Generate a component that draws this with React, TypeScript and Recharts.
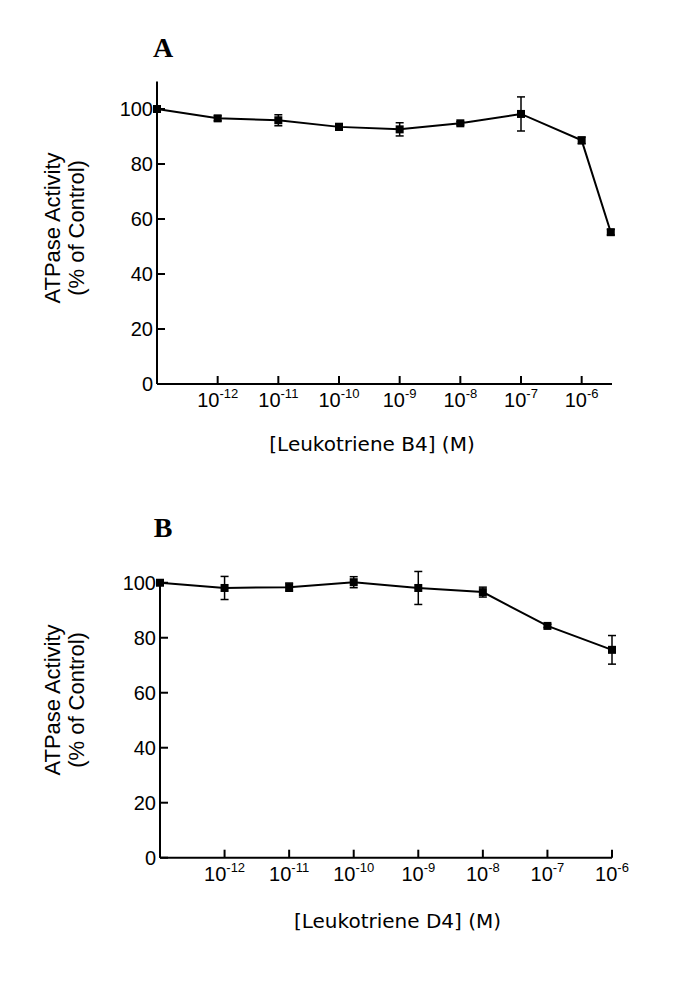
import React from 'react';
import { LineChart, Line, XAxis, YAxis, ErrorBar, ReferenceLine, Label } from 'recharts';

// concentrations as log10(M); first point is the control, plotted at 10^-13
const doseExpA = [-13, -12, -11, -10, -9, -8, -7, -6, -5.52];
const activityA = [100, 96.6, 95.9, 93.5, 92.6, 94.8, 98.2, 88.6, 55.2];
const errorA = [0.6, 0.9, 2.0, 1.2, 2.4, 0.6, 6.2, 1.2, 1.0];

const doseExpB = [-13, -12, -11, -10, -9, -8, -7, -6];
const activityB = [100, 98.1, 98.4, 100.2, 98.1, 96.6, 84.3, 75.6];
const errorB = [0.4, 4.2, 1.5, 2.0, 6.0, 1.8, 0.6, 5.2];

const yTicks = [0, 20, 40, 60, 80, 100];
const xTicks = [-13, -12, -11, -10, -9, -8, -7, -6];

const SANS = '"Liberation Sans", Arial, Helvetica, sans-serif';

const toRows = (xs: number[], ys: number[], es: number[]) =>
  xs.map((x, i) => ({ x, y: ys[i], err: es[i] }));

const XTick = (props: any) => {
  const { x, y, payload } = props;
  const v = payload.value;
  return (
    <g>
      <line x1={x} y1={y} x2={x} y2={y - 8} stroke="#000" strokeWidth={2} />
      {v !== -13 && (
        <text x={x} y={y + 23} textAnchor="middle" fontFamily={SANS} fontSize={20} fill="#000">
          10<tspan dy={-9} fontSize={13}>{v}</tspan>
        </text>
      )}
    </g>
  );
};

const YTick = (props: any) => {
  const { x, y, payload } = props;
  return (
    <g>
      <line x1={x} y1={y} x2={x + 8} y2={y} stroke="#000" strokeWidth={2} />
      <text x={x - 4} y={y} dy={7} textAnchor="end" fontFamily={SANS} fontSize={20} fill="#000">
        {payload.value}
      </text>
    </g>
  );
};

const SquareDot = (props: any) => {
  const { cx, cy, index } = props;
  return <rect key={index} x={cx - 4} y={cy - 4} width={8} height={8} fill="#000" />;
};

interface PanelProps {
  letter: string;
  xLabel: string;
  rows: { x: number; y: number; err: number }[];
  xDomain: [number, number];
  yDomain: [number, number];
  margin: { top: number; right: number; bottom: number; left: number };
  xLabelPos: [number, number];
  yLabelPos: [number, number];
  titlePos: [number, number];
  clipAxisAt?: number;
}

const Panel: React.FC<PanelProps> = (p) => (
  <LineChart width={669} height={470} data={p.rows} margin={p.margin}>
    <XAxis
      dataKey="x"
      type="number"
      domain={p.xDomain}
      ticks={xTicks}
      interval={0}
      tick={<XTick />}
      tickSize={0}
      tickMargin={0}
      height={40}
      axisLine={{ stroke: '#000', strokeWidth: 2 }}
    >
      <Label
        content={() => (
          <text
            x={p.xLabelPos[0]}
            y={p.xLabelPos[1]}
            textAnchor="middle"
            fontFamily='"DejaVu Sans", sans-serif'
            fontSize={20}
            fill="#000"
          >
            {p.xLabel}
          </text>
        )}
      />
    </XAxis>
    <YAxis
      type="number"
      domain={p.yDomain}
      ticks={yTicks}
      interval={0}
      tick={<YTick />}
      tickSize={0}
      tickMargin={0}
      width={60}
      axisLine={p.clipAxisAt ? false : { stroke: '#000', strokeWidth: 2 }}
    >
      <Label
        content={() => {
          const [cx, cy] = p.yLabelPos;
          return (
            <g>
              <text
                x={p.titlePos[0]}
                y={p.titlePos[1]}
                textAnchor="middle"
                fontFamily='"Liberation Serif", "Times New Roman", serif'
                fontWeight="bold"
                fontSize={28}
                fill="#000"
              >
                {p.letter}
              </text>
              <text
                x={cx}
                y={cy}
                transform={`rotate(-90 ${cx} ${cy})`}
                textAnchor="middle"
                fontFamily={SANS}
                fontSize={22}
                fill="#000"
              >
                <tspan x={cx}>ATPase Activity</tspan>
                <tspan x={cx} dy={24}>(% of Control)</tspan>
              </text>
            </g>
          );
        }}
      />
    </YAxis>
    {p.clipAxisAt !== undefined && (
      <ReferenceLine
        segment={[
          { x: p.xDomain[0], y: 0 },
          { x: p.xDomain[0], y: p.clipAxisAt },
        ]}
        stroke="#000"
        strokeWidth={2}
      />
    )}
    <Line
      type="linear"
      dataKey="y"
      stroke="#000"
      strokeWidth={2}
      dot={SquareDot}
      activeDot={false}
      isAnimationActive={false}
    >
      <ErrorBar dataKey="err" width={4} stroke="#000" strokeWidth={1.5} direction="y" />
    </Line>
  </LineChart>
);

export default function App() {
  return (
    <div style={{ width: 669, height: 967, background: '#fff' }}>
      <Panel
        letter="A"
        xLabel="[Leukotriene B4] (M)"
        rows={toRows(doseExpA, activityA, errorA)}
        xDomain={[-13, -5.5]}
        yDomain={[0, 110]}
        margin={{ top: 73.5, right: 65, bottom: 54, left: 89 }}
        xLabelPos={[364, 443]}
        yLabelPos={[52, 220]}
        titlePos={[155, 49]}
      />
      <Panel
        letter="B"
        xLabel="[Leukotriene D4] (M)"
        rows={toRows(doseExpB, activityB, errorB)}
        xDomain={[-13, -6]}
        yDomain={[0, 105]}
        margin={{ top: 91, right: 65, bottom: 50.3, left: 92 }}
        xLabelPos={[389.5, 450]}
        yLabelPos={[52, 222]}
        titlePos={[155, 59]}
        clipAxisAt={101}
      />
    </div>
  );
}
